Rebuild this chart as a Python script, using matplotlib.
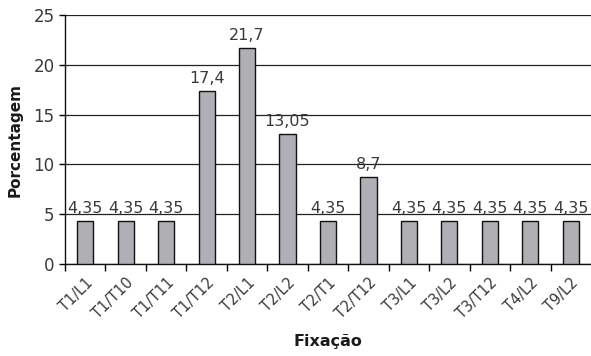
import matplotlib.pyplot as plt
import numpy as np

fixacao = ['T1/L1', 'T1/T10', 'T1/T11', 'T1/T12', 'T2/L1', 'T2/L2', 'T2/T1',
           'T2/T12', 'T3/L1', 'T3/L2', 'T3/T12', 'T4/L2', 'T9/L2']
porcentagem = [4.35, 4.35, 4.35, 17.4, 21.7, 13.05, 4.35,
               8.7, 4.35, 4.35, 4.35, 4.35, 4.35]

plt.rcParams['font.family'] = ['DejaVu Sans']
txt = '#3a3a3a'

fig = plt.figure(figsize=(5.91, 3.56), dpi=100)
ax = fig.add_axes([0.110, 0.258, 0.890, 0.700])

x = np.arange(len(fixacao))
ax.set_axisbelow(True)
ax.yaxis.grid(True, color='#222222', linewidth=0.9)
ax.bar(x, porcentagem, width=0.4, color='#b0b0b4', edgecolor='#111111', linewidth=1.0, zorder=3)

for xi, v in zip(x, porcentagem):
    lab = f'{v:g}'.replace('.', ',')
    ax.text(xi, v + 0.5, lab, ha='center', va='bottom', fontsize=11.5, color=txt)

ax.set_xlim(-0.5, len(fixacao) - 0.5)
ax.set_ylim(0, 25)
ax.set_yticks(np.arange(0, 26, 5))
ax.tick_params(axis='y', labelsize=12, labelcolor=txt, length=4, width=1)

# ticks sit between categories, labels centred under bars
ax.set_xticks(x - 0.5, minor=False)
ax.set_xticklabels([])
ax.set_xticks(x, minor=True)
ax.set_xticklabels(fixacao, minor=True, rotation=45, ha='right', rotation_mode='anchor',
                   fontsize=10.5, color=txt)
ax.tick_params(axis='x', which='major', length=5, width=1, direction='out')
ax.tick_params(axis='x', which='minor', length=0, pad=8)

for s in ['top', 'right']:
    ax.spines[s].set_visible(False)
for s in ['left', 'bottom']:
    ax.spines[s].set_linewidth(1.0)
    ax.spines[s].set_color('#111111')

ax.set_ylabel('Porcentagem', fontsize=11, fontweight='bold', color='#1a1a1a', labelpad=8)
ax.set_xlabel('Fixação', fontsize=11.5, fontweight='bold', color='#1a1a1a', labelpad=9)

fig.savefig('out.png', dpi=100)
